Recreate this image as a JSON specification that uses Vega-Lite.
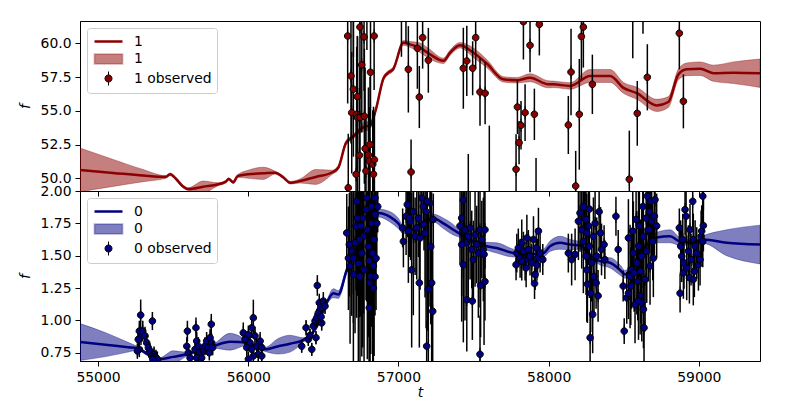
{
"$schema": "https://vega.github.io/schema/vega-lite/v6.json",
"padding": {"left": 17, "top": 20, "right": 5, "bottom": 0},
"bounds": "flush",
"spacing": 0,
"config": {
  "view": {"stroke": "black", "strokeWidth": 1},
  "font": "DejaVu Sans",
  "axis": {"domainColor": "black", "tickColor": "black", "labelColor": "black", "titleColor": "black", "labelFont": "DejaVu Sans", "titleFont": "DejaVu Sans", "labelFontSize": 13.9, "titleFontSize": 13.9, "titleFontWeight": "normal", "titleFontStyle": "italic", "tickSize": 5, "labelPadding": 4, "grid": false, "labelFlush": false, "labelOverlap": false},
  "legend": {"orient": "top-left", "offset": 7, "padding": 5, "rowPadding": 1, "symbolOffset": 8, "labelOffset": 17, "labelFont": "DejaVu Sans", "labelFontSize": 13.9, "labelColor": "black", "symbolSize": 196, "strokeColor": "#cccccc", "fillColor": "rgba(255,255,255,0.8)", "cornerRadius": 3}
},
"datasets": {
"gp1": [
{"t":54880,"f":50.62,"lo":49.0,"hi":52.24},{"t":55100,"f":50.4,"lo":49.4,"hi":51.4},{"t":55300,"f":50.2,"lo":49.75,"hi":50.65},{"t":55450,"f":50.1,"lo":50.0,"hi":50.2},{"t":55480,"f":50.3,"lo":50.2,"hi":50.4},{"t":55520,"f":49.95,"lo":49.85,"hi":50.05},{"t":55560,"f":49.45,"lo":49.35,"hi":49.55},{"t":55600,"f":49.2,"lo":49.1,"hi":49.3},{"t":55700,"f":49.38,"lo":48.95,"hi":49.8},{"t":55800,"f":49.56,"lo":49.45,"hi":49.67},{"t":55850,"f":49.75,"lo":49.65,"hi":49.85},{"t":55870,"f":49.95,"lo":49.85,"hi":50.05},{"t":55900,"f":49.7,"lo":49.6,"hi":49.8},{"t":55930,"f":50.17,"lo":50.07,"hi":50.27},{"t":56000,"f":50.3,"lo":50.0,"hi":50.6},{"t":56100,"f":50.37,"lo":49.92,"hi":50.82},{"t":56180,"f":50.42,"lo":50.32,"hi":50.52},{"t":56230,"f":50.1,"lo":50.0,"hi":50.2},{"t":56280,"f":49.67,"lo":49.57,"hi":49.77},{"t":56345,"f":49.8,"lo":49.65,"hi":49.95},{"t":56450,"f":50.1,"lo":49.55,"hi":50.65},{"t":56560,"f":50.45,"lo":50.3,"hi":50.6},{"t":56600,"f":50.8,"lo":50.65,"hi":50.95},{"t":56650,"f":52.6,"lo":52.45,"hi":52.75},{"t":56700,"f":53.1,"lo":52.95,"hi":53.25},{"t":56745,"f":53.6,"lo":53.4,"hi":53.8},{"t":56780,"f":53.85,"lo":53.5,"hi":54.2},{"t":56810,"f":53.9,"lo":53.65,"hi":54.15},{"t":56850,"f":55.1,"lo":54.95,"hi":55.25},{"t":56900,"f":57.4,"lo":57.25,"hi":57.55},{"t":56930,"f":57.8,"lo":57.65,"hi":57.95},{"t":56966,"f":58.1,"lo":57.95,"hi":58.25},{"t":57033,"f":60.04,"lo":59.85,"hi":60.2},{"t":57077,"f":59.92,"lo":59.7,"hi":60.14},{"t":57144,"f":59.67,"lo":59.32,"hi":60.02},{"t":57210,"f":59.18,"lo":58.83,"hi":59.53},{"t":57299,"f":58.7,"lo":58.5,"hi":58.9},{"t":57344,"f":59.3,"lo":59.1,"hi":59.5},{"t":57410,"f":59.85,"lo":59.65,"hi":60.05},{"t":57499,"f":59.3,"lo":58.95,"hi":59.65},{"t":57588,"f":58.5,"lo":58.2,"hi":58.8},{"t":57698,"f":57.33,"lo":57.13,"hi":57.53},{"t":57788,"f":57.26,"lo":57.06,"hi":57.46},{"t":57876,"f":57.45,"lo":57.15,"hi":57.75},{"t":57998,"f":56.96,"lo":56.7,"hi":57.22},{"t":58031,"f":56.96,"lo":56.72,"hi":57.2},{"t":58142,"f":56.84,"lo":56.6,"hi":57.08},{"t":58276,"f":57.58,"lo":57.1,"hi":58.06},{"t":58409,"f":57.58,"lo":57.1,"hi":58.06},{"t":58498,"f":56.7,"lo":56.3,"hi":57.1},{"t":58587,"f":56.3,"lo":55.85,"hi":56.75},{"t":58720,"f":55.4,"lo":54.95,"hi":55.85},{"t":58797,"f":55.65,"lo":55.25,"hi":56.05},{"t":58864,"f":57.7,"lo":57.3,"hi":58.1},{"t":58919,"f":58.07,"lo":57.6,"hi":58.54},{"t":59008,"f":58.12,"lo":57.62,"hi":58.62},{"t":59097,"f":57.78,"lo":57.18,"hi":58.38},{"t":59230,"f":57.82,"lo":57.02,"hi":58.62},{"t":59407,"f":57.78,"lo":56.73,"hi":58.83}
],
"gp0": [
{"t":54880,"f":0.833,"lo":0.69,"hi":0.975},{"t":55050,"f":0.812,"lo":0.72,"hi":0.905},{"t":55200,"f":0.792,"lo":0.755,"hi":0.83},{"t":55262,"f":0.784,"lo":0.77,"hi":0.798},{"t":55330,"f":0.74,"lo":0.727,"hi":0.753},{"t":55413,"f":0.70,"lo":0.687,"hi":0.713},{"t":55500,"f":0.718,"lo":0.67,"hi":0.765},{"t":55590,"f":0.738,"lo":0.722,"hi":0.754},{"t":55680,"f":0.77,"lo":0.755,"hi":0.785},{"t":55766,"f":0.80,"lo":0.785,"hi":0.815},{"t":55879,"f":0.835,"lo":0.77,"hi":0.9},{"t":55999,"f":0.827,"lo":0.81,"hi":0.844},{"t":56050,"f":0.80,"lo":0.785,"hi":0.815},{"t":56112,"f":0.776,"lo":0.76,"hi":0.792},{"t":56200,"f":0.80,"lo":0.74,"hi":0.86},{"t":56278,"f":0.82,"lo":0.755,"hi":0.885},{"t":56365,"f":0.848,"lo":0.83,"hi":0.866},{"t":56458,"f":0.956,"lo":0.94,"hi":0.972},{"t":56522,"f":1.136,"lo":1.12,"hi":1.152},{"t":56567,"f":1.21,"lo":1.175,"hi":1.245},{"t":56600,"f":1.2,"lo":1.17,"hi":1.23},{"t":56656,"f":1.39,"lo":1.37,"hi":1.41},{"t":56711,"f":1.52,"lo":1.5,"hi":1.54},{"t":56760,"f":1.62,"lo":1.6,"hi":1.64},{"t":56820,"f":1.76,"lo":1.74,"hi":1.78},{"t":56866,"f":1.83,"lo":1.8,"hi":1.86},{"t":56944,"f":1.80,"lo":1.76,"hi":1.84},{"t":56999,"f":1.75,"lo":1.71,"hi":1.79},{"t":57033,"f":1.70,"lo":1.67,"hi":1.73},{"t":57100,"f":1.70,"lo":1.68,"hi":1.72},{"t":57170,"f":1.76,"lo":1.74,"hi":1.78},{"t":57233,"f":1.79,"lo":1.76,"hi":1.82},{"t":57299,"f":1.75,"lo":1.71,"hi":1.79},{"t":57366,"f":1.70,"lo":1.66,"hi":1.74},{"t":57399,"f":1.676,"lo":1.646,"hi":1.706},{"t":57480,"f":1.62,"lo":1.6,"hi":1.64},{"t":57588,"f":1.573,"lo":1.543,"hi":1.603},{"t":57654,"f":1.56,"lo":1.52,"hi":1.6},{"t":57765,"f":1.52,"lo":1.49,"hi":1.55},{"t":57870,"f":1.51,"lo":1.49,"hi":1.53},{"t":57965,"f":1.52,"lo":1.49,"hi":1.55},{"t":58009,"f":1.573,"lo":1.533,"hi":1.613},{"t":58076,"f":1.60,"lo":1.55,"hi":1.65},{"t":58142,"f":1.586,"lo":1.546,"hi":1.626},{"t":58209,"f":1.578,"lo":1.55,"hi":1.606},{"t":58280,"f":1.50,"lo":1.48,"hi":1.52},{"t":58342,"f":1.458,"lo":1.428,"hi":1.488},{"t":58409,"f":1.445,"lo":1.405,"hi":1.485},{"t":58475,"f":1.39,"lo":1.35,"hi":1.43},{"t":58509,"f":1.355,"lo":1.325,"hi":1.385},{"t":58542,"f":1.39,"lo":1.36,"hi":1.42},{"t":58609,"f":1.52,"lo":1.49,"hi":1.55},{"t":58720,"f":1.64,"lo":1.6,"hi":1.68},{"t":58808,"f":1.65,"lo":1.6,"hi":1.7},{"t":58875,"f":1.61,"lo":1.58,"hi":1.64},{"t":58963,"f":1.60,"lo":1.58,"hi":1.62},{"t":59030,"f":1.625,"lo":1.595,"hi":1.655},{"t":59185,"f":1.60,"lo":1.5,"hi":1.7},{"t":59407,"f":1.586,"lo":1.436,"hi":1.736}
],
"obs1": [
{"t":56662,"f":60.54,"e":5},{"t":56666,"f":49.3,"e":4},{"t":56684,"f":57.58,"e":5},{"t":56689,"f":54.86,"e":4.5},{"t":56700,"f":56.6,"e":5},{"t":56700,"f":64,"e":5},{"t":56718,"f":50.3,"e":4},{"t":56722,"f":54.74,"e":5},{"t":56726,"f":56.05,"e":4.5},{"t":56728,"f":54.49,"e":6},{"t":56740,"f":51.7,"e":5},{"t":56744,"f":61.2,"e":5},{"t":56744,"f":54.5,"e":4},{"t":56756,"f":58.4,"e":5},{"t":56771,"f":60.47,"e":4},{"t":56773,"f":54.6,"e":5},{"t":56778,"f":52.2,"e":6},{"t":56784,"f":50.54,"e":4},{"t":56790,"f":63.5,"e":4},{"t":56800,"f":51.73,"e":5},{"t":56806,"f":51.28,"e":4},{"t":56811,"f":52.5,"e":5},{"t":56814,"f":57.85,"e":4},{"t":56829,"f":51.04,"e":4},{"t":56834,"f":50.3,"e":5},{"t":56838,"f":60.54,"e":4},{"t":56840,"f":51.38,"e":3.5},
{"t":57020,"f":63,"e":4},{"t":57050,"f":63.5,"e":3.5},{"t":57066,"f":58.07,"e":3.2},{"t":57084,"f":50.47,"e":2.4},{"t":57126,"f":59.63,"e":3},{"t":57139,"f":56.02,"e":2.3},{"t":57161,"f":60.42,"e":2.3},{"t":57199,"f":58.74,"e":2.4},{"t":57432,"f":58.15,"e":3},{"t":57455,"f":58.69,"e":2.6},{"t":57465,"f":48,"e":3.8},{"t":57494,"f":58.15,"e":2},{"t":57514,"f":60.42,"e":2.3},{"t":57543,"f":56.39,"e":2.5},{"t":57577,"f":56.3,"e":2.3},{"t":57605,"f":48.6,"e":5.3},
{"t":57783,"f":50.67,"e":2.6},{"t":57792,"f":55.28,"e":2},{"t":57803,"f":52.64,"e":1.6},{"t":57816,"f":53.93,"e":1.8},{"t":57832,"f":61.6,"e":2.8},{"t":57843,"f":54.86,"e":2.1},{"t":57876,"f":59.85,"e":2},{"t":57905,"f":54.74,"e":1.9},{"t":57916,"f":48.5,"e":3},{"t":57938,"f":61.4,"e":2.3},
{"t":58131,"f":53.95,"e":2.15},{"t":58149,"f":57.87,"e":3.2},{"t":58180,"f":49.43,"e":2.6},{"t":58204,"f":54.74,"e":4.1},{"t":58218,"f":60.5,"e":3.2},{"t":58231,"f":61.2,"e":3},{"t":58291,"f":56.96,"e":2.2},{"t":58537,"f":49.93,"e":3.6},{"t":58560,"f":63.5,"e":4.6},{"t":58590,"f":54.81,"e":2.4},{"t":58628,"f":63,"e":2.3},{"t":58657,"f":57.48,"e":2.45},{"t":58870,"f":60.74,"e":2.67},{"t":58897,"f":55.7,"e":2}
],
"obs0": [
{"t":55284,"f":1.041,"e":0.12},{"t":55275,"f":0.917,"e":0.08},{"t":55286,"f":0.88,"e":0.07},{"t":55298,"f":0.917,"e":0.08},{"t":55268,"f":0.853,"e":0.07},{"t":55275,"f":0.776,"e":0.06},{"t":55262,"f":0.763,"e":0.06},{"t":55313,"f":0.88,"e":0.07},{"t":55324,"f":0.827,"e":0.07},{"t":55335,"f":0.789,"e":0.06},{"t":55362,"f":0.995,"e":0.07},{"t":55346,"f":0.763,"e":0.06},{"t":55357,"f":0.725,"e":0.06},{"t":55373,"f":0.738,"e":0.06},{"t":55386,"f":0.712,"e":0.06},{"t":55395,"f":0.70,"e":0.06},{"t":55364,"f":0.70,"e":0.06},
{"t":55595,"f":0.917,"e":0.08},{"t":55591,"f":0.80,"e":0.07},{"t":55601,"f":0.75,"e":0.06},{"t":55613,"f":0.71,"e":0.06},{"t":55652,"f":0.943,"e":0.08},{"t":55657,"f":0.84,"e":0.07},{"t":55646,"f":0.776,"e":0.06},{"t":55668,"f":0.80,"e":0.07},{"t":55674,"f":0.75,"e":0.06},{"t":55657,"f":0.71,"e":0.06},{"t":55701,"f":0.763,"e":0.06},{"t":55712,"f":0.80,"e":0.07},{"t":55723,"f":0.84,"e":0.07},{"t":55734,"f":0.79,"e":0.06},{"t":55746,"f":0.866,"e":0.07},{"t":55754,"f":0.97,"e":0.08},{"t":55757,"f":0.827,"e":0.07},{"t":55741,"f":0.75,"e":0.06},{"t":55763,"f":0.79,"e":0.06},{"t":55690,"f":0.71,"e":0.06},
{"t":55967,"f":0.904,"e":0.08},{"t":55979,"f":0.853,"e":0.07},{"t":56023,"f":0.943,"e":0.08},{"t":56034,"f":1.02,"e":0.14},{"t":56001,"f":0.89,"e":0.07},{"t":56012,"f":0.827,"e":0.07},{"t":56045,"f":0.88,"e":0.07},{"t":56057,"f":0.80,"e":0.07},{"t":56079,"f":0.84,"e":0.07},{"t":56090,"f":0.79,"e":0.06},{"t":56067,"f":0.738,"e":0.06},{"t":56090,"f":0.725,"e":0.06},{"t":56001,"f":0.70,"e":0.06},{"t":56034,"f":0.725,"e":0.06},{"t":55990,"f":0.79,"e":0.07},{"t":56023,"f":0.776,"e":0.06},
{"t":56356,"f":0.80,"e":0.05},{"t":56385,"f":0.943,"e":0.06},{"t":56400,"f":0.853,"e":0.05},{"t":56411,"f":0.884,"e":0.05},{"t":56423,"f":0.776,"e":0.05},{"t":56433,"f":0.956,"e":0.06},{"t":56445,"f":0.995,"e":0.06},{"t":56456,"f":1.02,"e":0.07},{"t":56460,"f":1.27,"e":0.08},{"t":56467,"f":1.059,"e":0.07},{"t":56451,"f":0.866,"e":0.05},{"t":56473,"f":1.136,"e":0.07},{"t":56483,"f":1.097,"e":0.07},{"t":56489,"f":0.98,"e":0.06},{"t":56500,"f":1.149,"e":0.07},{"t":56511,"f":1.11,"e":0.06},{"t":56485,"f":1.028,"e":0.06},
{"t":56656,"f":1.676,"e":0.3},{"t":56667,"f":1.48,"e":0.4},{"t":56678,"f":1.42,"e":0.6},{"t":56700,"f":1.355,"e":0.8},{"t":56689,"f":1.535,"e":0.5},{"t":56711,"f":1.60,"e":0.7},{"t":56722,"f":1.92,"e":0.9},{"t":56718,"f":1.73,"e":0.5},{"t":56733,"f":1.44,"e":1.0},{"t":56744,"f":1.34,"e":0.9},{"t":56756,"f":1.52,"e":0.8},{"t":56762,"f":1.79,"e":1.0},{"t":56767,"f":1.65,"e":0.6},{"t":56771,"f":1.39,"e":0.9},{"t":56789,"f":1.946,"e":0.8},{"t":56793,"f":1.70,"e":1.0},{"t":56800,"f":1.57,"e":0.7},{"t":56806,"f":1.46,"e":1.0},{"t":56811,"f":1.29,"e":0.8},{"t":56806,"f":1.097,"e":0.9},{"t":56822,"f":1.88,"e":0.6},{"t":56822,"f":1.75,"e":0.8},{"t":56829,"f":1.52,"e":1.0},{"t":56833,"f":1.42,"e":0.5},{"t":56838,"f":1.625,"e":0.9},{"t":56844,"f":1.946,"e":0.4},{"t":56844,"f":1.818,"e":0.5},{"t":56851,"f":1.48,"e":0.4},{"t":56856,"f":1.75,"e":0.3},{"t":56833,"f":1.25,"e":0.7},{"t":56816,"f":1.34,"e":0.6},{"t":56784,"f":1.856,"e":0.7},{"t":56740,"f":1.625,"e":0.6},{"t":56700,"f":1.48,"e":0.5},{"t":56673,"f":1.585,"e":0.4},{"t":56726,"f":1.79,"e":0.6},{"t":56749,"f":1.73,"e":0.7},{"t":56862,"f":1.88,"e":0.2},{"t":56844,"f":1.337,"e":0.3},{"t":56760,"f":2.3,"e":1.2},{"t":56700,"f":2.2,"e":1.0},
{"t":57059,"f":1.895,"e":0.25},{"t":57028,"f":1.715,"e":0.15},{"t":57033,"f":1.61,"e":0.2},{"t":57051,"f":1.805,"e":0.3},{"t":57066,"f":1.69,"e":0.4},{"t":57081,"f":1.766,"e":0.3},{"t":57088,"f":1.39,"e":0.6},{"t":57099,"f":1.84,"e":0.8},{"t":57111,"f":1.65,"e":0.3},{"t":57122,"f":1.715,"e":0.4},{"t":57133,"f":1.79,"e":0.3},{"t":57139,"f":1.29,"e":0.5},{"t":57144,"f":1.637,"e":0.4},{"t":57155,"f":1.946,"e":0.3},{"t":57166,"f":1.88,"e":0.25},{"t":57170,"f":1.74,"e":0.2},{"t":57177,"f":1.676,"e":0.5},{"t":57184,"f":1.84,"e":0.9},{"t":57188,"f":0.80,"e":0.2},{"t":57199,"f":1.24,"e":0.6},{"t":57210,"f":1.907,"e":0.8},{"t":57215,"f":1.57,"e":0.6},{"t":57221,"f":1.29,"e":0.7},{"t":57228,"f":1.07,"e":0.5},{"t":57232,"f":1.78,"e":0.2},{"t":57192,"f":1.92,"e":1.0},{"t":57072,"f":1.79,"e":0.3},{"t":57100,"f":2.1,"e":0.5},
{"t":57421,"f":1.79,"e":0.8},{"t":57432,"f":1.93,"e":0.6},{"t":57410,"f":1.73,"e":0.3},{"t":57443,"f":1.70,"e":0.7},{"t":57455,"f":1.60,"e":0.4},{"t":57465,"f":1.65,"e":0.5},{"t":57477,"f":1.715,"e":0.4},{"t":57488,"f":1.548,"e":0.3},{"t":57499,"f":1.47,"e":0.3},{"t":57510,"f":1.66,"e":0.4},{"t":57521,"f":1.586,"e":0.3},{"t":57532,"f":1.52,"e":0.5},{"t":57543,"f":1.70,"e":0.6},{"t":57555,"f":1.625,"e":0.3},{"t":57565,"f":1.548,"e":0.4},{"t":57576,"f":1.70,"e":0.3},{"t":57570,"f":1.51,"e":0.7},{"t":57455,"f":1.16,"e":0.4},{"t":57492,"f":1.149,"e":0.3},{"t":57543,"f":0.738,"e":0.3},{"t":57547,"f":1.27,"e":0.4},{"t":57576,"f":1.30,"e":0.3},{"t":57421,"f":1.586,"e":0.4},{"t":57432,"f":1.43,"e":0.6},{"t":57440,"f":2.2,"e":0.6},
{"t":57788,"f":1.52,"e":0.15},{"t":57783,"f":1.43,"e":0.12},{"t":57798,"f":1.56,"e":0.15},{"t":57810,"f":1.48,"e":0.15},{"t":57821,"f":1.60,"e":0.18},{"t":57832,"f":1.535,"e":0.15},{"t":57843,"f":1.458,"e":0.15},{"t":57850,"f":1.406,"e":0.15},{"t":57855,"f":1.637,"e":0.18},{"t":57865,"f":1.548,"e":0.15},{"t":57876,"f":1.496,"e":0.15},{"t":57888,"f":1.445,"e":0.15},{"t":57899,"f":1.625,"e":0.18},{"t":57910,"f":1.355,"e":0.12},{"t":57906,"f":1.285,"e":0.12},{"t":57917,"f":1.56,"e":0.15},{"t":57926,"f":1.48,"e":0.15},{"t":57932,"f":1.69,"e":0.18},{"t":57943,"f":1.52,"e":0.15},{"t":57961,"f":1.47,"e":0.12},{"t":57922,"f":1.427,"e":0.12},{"t":57821,"f":1.458,"e":0.15},
{"t":58131,"f":1.52,"e":0.15},{"t":58153,"f":1.47,"e":0.2},{"t":58176,"f":1.51,"e":0.2},{"t":58198,"f":1.766,"e":0.3},{"t":58209,"f":1.83,"e":0.3},{"t":58220,"f":1.70,"e":0.3},{"t":58231,"f":1.61,"e":0.4},{"t":58231,"f":1.88,"e":0.2},{"t":58242,"f":1.79,"e":0.3},{"t":58249,"f":1.496,"e":0.3},{"t":58254,"f":1.39,"e":0.4},{"t":58258,"f":1.28,"e":0.3},{"t":58264,"f":1.73,"e":0.3},{"t":58271,"f":1.573,"e":0.4},{"t":58276,"f":0.866,"e":0.2},{"t":58280,"f":1.21,"e":0.3},{"t":58287,"f":1.445,"e":0.3},{"t":58293,"f":1.046,"e":0.3},{"t":58298,"f":1.65,"e":0.3},{"t":58302,"f":1.34,"e":0.3},{"t":58309,"f":1.75,"e":0.3},{"t":58316,"f":1.29,"e":0.2},{"t":58320,"f":1.496,"e":0.3},{"t":58329,"f":1.19,"e":0.2},{"t":58336,"f":1.84,"e":0.3},{"t":58345,"f":1.676,"e":0.2},{"t":58352,"f":1.548,"e":0.2},{"t":58369,"f":1.586,"e":0.15},{"t":58374,"f":1.47,"e":0.15},{"t":58448,"f":1.805,"e":0.15},{"t":58463,"f":1.548,"e":0.15},{"t":58271,"f":1.86,"e":0.3},{"t":58249,"f":1.78,"e":0.3},{"t":58254,"f":1.676,"e":0.3},{"t":58496,"f":1.265,"e":0.12},{"t":58503,"f":0.917,"e":0.1},{"t":58240,"f":2.1,"e":0.4},
{"t":58520,"f":1.174,"e":0.2},{"t":58531,"f":1.21,"e":0.2},{"t":58531,"f":1.637,"e":0.3},{"t":58542,"f":1.34,"e":0.4},{"t":58547,"f":1.265,"e":0.3},{"t":58553,"f":1.39,"e":0.3},{"t":58560,"f":1.69,"e":0.4},{"t":58564,"f":1.52,"e":0.4},{"t":58569,"f":1.367,"e":0.3},{"t":58575,"f":1.123,"e":0.3},{"t":58582,"f":1.78,"e":0.4},{"t":58587,"f":1.445,"e":0.4},{"t":58593,"f":1.30,"e":0.3},{"t":58598,"f":1.573,"e":0.5},{"t":58604,"f":1.73,"e":0.4},{"t":58609,"f":1.19,"e":0.3},{"t":58613,"f":1.38,"e":0.4},{"t":58620,"f":1.496,"e":0.4},{"t":58620,"f":1.136,"e":0.3},{"t":58627,"f":1.88,"e":0.5},{"t":58631,"f":1.65,"e":0.4},{"t":58635,"f":0.943,"e":0.4},{"t":58642,"f":1.316,"e":0.4},{"t":58649,"f":1.79,"e":0.4},{"t":58653,"f":1.535,"e":0.4},{"t":58657,"f":1.96,"e":0.3},{"t":58664,"f":1.70,"e":0.4},{"t":58671,"f":1.84,"e":0.3},{"t":58675,"f":1.42,"e":0.3},{"t":58680,"f":1.92,"e":0.3},{"t":58686,"f":1.766,"e":0.3},{"t":58693,"f":1.61,"e":0.3},{"t":58697,"f":1.48,"e":0.3},{"t":58704,"f":1.805,"e":0.3},{"t":58708,"f":1.933,"e":0.3},{"t":58719,"f":1.73,"e":0.25},{"t":58631,"f":1.085,"e":0.3},{"t":58598,"f":1.149,"e":0.3},{"t":58660,"f":2.1,"e":0.4},
{"t":58875,"f":1.21,"e":0.15},{"t":58870,"f":1.715,"e":0.15},{"t":58879,"f":1.573,"e":0.2},{"t":58886,"f":1.496,"e":0.2},{"t":58893,"f":1.625,"e":0.2},{"t":58897,"f":1.367,"e":0.2},{"t":58901,"f":1.445,"e":0.2},{"t":58908,"f":1.856,"e":0.2},{"t":58915,"f":1.805,"e":0.2},{"t":58919,"f":1.406,"e":0.25},{"t":58930,"f":1.535,"e":0.2},{"t":58937,"f":1.33,"e":0.2},{"t":58941,"f":1.70,"e":0.2},{"t":58948,"f":1.47,"e":0.2},{"t":58959,"f":1.92,"e":0.2},{"t":58963,"f":1.625,"e":0.2},{"t":58970,"f":1.38,"e":0.2},{"t":58975,"f":1.573,"e":0.2},{"t":58986,"f":1.52,"e":0.2},{"t":58997,"f":1.43,"e":0.2},{"t":59008,"f":1.47,"e":0.2},{"t":59015,"f":1.65,"e":0.2},{"t":59019,"f":1.69,"e":0.2},{"t":59026,"f":1.96,"e":0.15},{"t":59030,"f":1.733,"e":0.2},{"t":59026,"f":1.61,"e":0.2},{"t":58963,"f":1.316,"e":0.2},{"t":59030,"f":2.05,"e":0.2}
]
},
"resolve": {"scale": {"shape": "independent", "fill": "independent", "stroke": "independent", "strokeWidth": "independent"}, "legend": {"shape": "independent", "fill": "independent", "stroke": "independent", "strokeWidth": "independent"}},
"vconcat": [
{
  "width": 680, "height": 170,
  "encoding": {
    "x": {"field": "t", "type": "quantitative", "scale": {"domain": [54880, 59407], "nice": false, "zero": false}, "axis": {"values": [55000, 56000, 57000, 58000, 59000], "labels": false, "title": null, "ticks": true}},
    "y": {"field": "f", "type": "quantitative", "scale": {"domain": [49.06, 61.65], "nice": false, "zero": false}, "axis": {"values": [50, 52.5, 55, 57.5, 60], "format": ".1f", "title": "f", "titlePadding": 8}}
  },
  "layer": [
    {"data": {"name": "gp1"},
     "mark": {"type": "area", "clip": true, "interpolate": "monotone", "fill": "#8b0000", "fillOpacity": 0.5, "stroke": "#8b0000", "strokeOpacity": 0.35, "strokeWidth": 1},
     "encoding": {
       "y": {"field": "lo", "type": "quantitative", "scale": {"domain": [49.06, 61.65], "nice": false, "zero": false}, "axis": {"values": [50, 52.5, 55, 57.5, 60], "format": ".1f", "title": "f", "titlePadding": 8}},
       "y2": {"field": "hi"}
     }},
    {"data": {"name": "gp1"},
     "mark": {"type": "line", "clip": true, "interpolate": "monotone", "color": "#8b0000", "strokeWidth": 2.5}},
    {"data": {"name": "obs1"},
     "mark": {"type": "errorbar", "clip": true, "color": "black", "thickness": 1.5},
     "encoding": {"yError": {"field": "e"}}},
    {"data": {"name": "obs1"},
     "mark": {"type": "point", "clip": true, "filled": true, "size": 174, "opacity": 1},
     "encoding": {
       "shape": {"datum": "obs", "type": "nominal", "scale": {"domain": ["line", "band", "obs"], "range": ["M-2,0H2", "M-2,-0.7H2V0.7H-2Z", "M0,-1V-0.5M0,0.5V1M-0.5,0A0.5,0.5 0 1,0 0.5,0A0.5,0.5 0 1,0 -0.5,0Z"]},
         "legend": {"title": null, "labelExpr": "datum.value == 'obs' ? '1 observed' : '1'"}},
       "fill": {"datum": "obs", "type": "nominal", "scale": {"domain": ["line", "band", "obs"], "range": ["transparent", "rgba(139,0,0,0.5)", "#8b0000"]},
         "legend": {"title": null, "labelExpr": "datum.value == 'obs' ? '1 observed' : '1'"}},
       "stroke": {"datum": "obs", "type": "nominal", "scale": {"domain": ["line", "band", "obs"], "range": ["#8b0000", "rgba(139,0,0,0.3)", "black"]},
         "legend": {"title": null, "labelExpr": "datum.value == 'obs' ? '1 observed' : '1'"}},
       "strokeWidth": {"datum": "obs", "type": "nominal", "scale": {"domain": ["line", "band", "obs"], "range": [2.5, 1, 1]},
         "legend": {"title": null, "labelExpr": "datum.value == 'obs' ? '1 observed' : '1'"}}
     }}
  ]
},
{
  "width": 680, "height": 170,
  "encoding": {
    "x": {"field": "t", "type": "quantitative", "scale": {"domain": [54880, 59407], "nice": false, "zero": false}, "axis": {"values": [55000, 56000, 57000, 58000, 59000], "format": "d", "title": "t", "titlePadding": 2}},
    "y": {"field": "f", "type": "quantitative", "scale": {"domain": [0.686, 2.0], "nice": false, "zero": false}, "axis": {"values": [0.75, 1.0, 1.25, 1.5, 1.75, 2.0], "format": ".2f", "title": "f", "titlePadding": 8}}
  },
  "layer": [
    {"data": {"name": "gp0"},
     "mark": {"type": "area", "clip": true, "interpolate": "monotone", "fill": "#000080", "fillOpacity": 0.5, "stroke": "#000080", "strokeOpacity": 0.35, "strokeWidth": 1},
     "encoding": {
       "y": {"field": "lo", "type": "quantitative", "scale": {"domain": [0.686, 2.0], "nice": false, "zero": false}, "axis": {"values": [0.75, 1.0, 1.25, 1.5, 1.75, 2.0], "format": ".2f", "title": "f", "titlePadding": 8}},
       "y2": {"field": "hi"}
     }},
    {"data": {"name": "gp0"},
     "mark": {"type": "line", "clip": true, "interpolate": "monotone", "color": "#000080", "strokeWidth": 2.5}},
    {"data": {"name": "obs0"},
     "mark": {"type": "errorbar", "clip": true, "color": "black", "thickness": 1.5},
     "encoding": {"yError": {"field": "e"}}},
    {"data": {"name": "obs0"},
     "mark": {"type": "point", "clip": true, "filled": true, "size": 174, "opacity": 1},
     "encoding": {
       "shape": {"datum": "obs", "type": "nominal", "scale": {"domain": ["line", "band", "obs"], "range": ["M-2,0H2", "M-2,-0.7H2V0.7H-2Z", "M0,-1V-0.5M0,0.5V1M-0.5,0A0.5,0.5 0 1,0 0.5,0A0.5,0.5 0 1,0 -0.5,0Z"]},
         "legend": {"title": null, "labelExpr": "datum.value == 'obs' ? '0 observed' : '0'"}},
       "fill": {"datum": "obs", "type": "nominal", "scale": {"domain": ["line", "band", "obs"], "range": ["transparent", "rgba(0,0,128,0.5)", "#000080"]},
         "legend": {"title": null, "labelExpr": "datum.value == 'obs' ? '0 observed' : '0'"}},
       "stroke": {"datum": "obs", "type": "nominal", "scale": {"domain": ["line", "band", "obs"], "range": ["#000080", "rgba(0,0,128,0.3)", "black"]},
         "legend": {"title": null, "labelExpr": "datum.value == 'obs' ? '0 observed' : '0'"}},
       "strokeWidth": {"datum": "obs", "type": "nominal", "scale": {"domain": ["line", "band", "obs"], "range": [2.5, 1, 1]},
         "legend": {"title": null, "labelExpr": "datum.value == 'obs' ? '0 observed' : '0'"}}
     }}
  ]
}
]
}
